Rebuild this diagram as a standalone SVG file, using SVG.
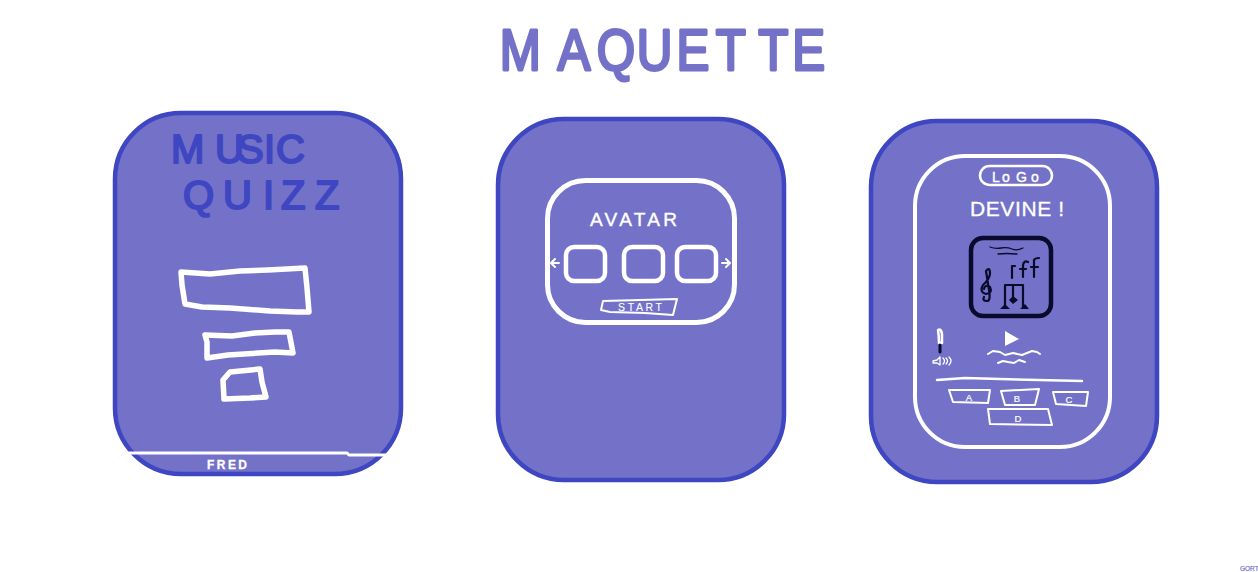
<svg xmlns="http://www.w3.org/2000/svg" width="1258" height="572" viewBox="0 0 1258 572">
<style>
text{font-family:"Liberation Sans",Arial,sans-serif}
.card{fill:#7472c8;stroke:#3e46c2;stroke-width:4.5}
.w{fill:none;stroke:#fff;stroke-linejoin:round;stroke-linecap:round}
.t{fill:#fff;stroke:#fff}
.k{fill:none;stroke:#0a0a2c;stroke-linejoin:round;stroke-linecap:round}
.blue{fill:#3e46c2;stroke:#3e46c2;stroke-width:2;stroke-linejoin:round}
</style>
<rect width="1258" height="572" fill="#fff"/>
<g id="title">
<text transform="scale(.85 1)" x="588 656 702 749 796 842 892 932" y="70" font-size="58" fill="#7472c8" stroke="#7472c8" stroke-width="3" stroke-linejoin="round">MAQUETTE</text>
</g>
<g id="screen-home">
<rect class="card" x="115" y="113" width="286" height="361" rx="66"/>
<text class="blue" x="171 215 237 264 276" y="163" font-size="40">MUSIC</text>
<text class="blue" x="183 223 263 281 315" y="209" font-size="40">QUIZZ</text>
<polygon class="w" stroke-width="5.5" points="181,272 210,274 240,271 268,270 305,268 307,288 309,312 297,312 270,311 230,308 202,307 185,304 182,285"/>
<polygon class="w" stroke-width="5.5" points="205,335 232,336 255,333 275,332 289,332 293,353 275,352 228,355 207,358 207,342"/>
<polygon class="w" stroke-width="5.5" points="223,380 230,372 260,369 262,382 266,397 250,398 224,399"/>
<polyline class="w" stroke-width="3" points="129,453 347,453 349,455 387,455"/>
<text class="t" x="207" y="469" font-size="12" font-weight="bold" stroke-width=".3" textLength="40">FRED</text>
</g>
<g id="screen-avatar">
<rect class="card" x="498" y="119" width="286" height="361" rx="66"/>
<rect class="w" x="547.5" y="180.5" width="187" height="142" rx="38" stroke-width="5"/>
<text class="t" x="590" y="226" font-size="19" stroke-width=".4" textLength="87">AVATAR</text>
<rect class="w" x="566" y="247" width="39" height="34" rx="8" stroke-width="4.5"/>
<rect class="w" x="624" y="247" width="39" height="34" rx="8" stroke-width="4.5"/>
<rect class="w" x="677" y="247" width="39" height="34" rx="8" stroke-width="4.5"/>
<path class="w" stroke-width="2" d="M559 263H552M555 259L551 263L555 267M722 263H729M726 259L730 263L726 267"/>
<polygon class="w" stroke-width="2" points="603,301 677,299 673,315 645,313 610,312 601,310"/>
<text class="t" x="618" y="311" font-size="10.5" stroke-width=".1" textLength="44">START</text>
</g>
<g id="screen-quiz">
<rect class="card" x="871" y="121" width="286" height="361" rx="66"/>
<rect class="w" x="915" y="156" width="195" height="291" rx="50" stroke-width="4"/>
<rect class="w" x="980" y="166" width="72" height="19" rx="9.5" stroke-width="2.5"/>
<text class="t" x="992 1002 1016 1031" y="182" font-size="14" stroke-width=".4">LoGo</text>
<text class="t" x="970" y="216" font-size="21" stroke-width=".3" textLength="94">DEVINE !</text>
<rect class="k" x="971" y="238" width="80" height="78" rx="12" stroke-width="4.5"/>
<path class="k" stroke-width="1.3" d="M990 247Q995 249 1001 248T1012 249T1023 248M998 254Q1006 253 1017 254"/>
<path class="k" stroke-width="2.2" d="M987 301Q982 301 984 297M987 301Q991 301 989 290L986 271Q990 266 990 274Q989 280 983 285Q979 292 986 294Q993 293 990 287Q985 284 984 289"/>
<path class="k" stroke-width="2.2" d="M1012 278V266H1015M1023 277V265M1020 269H1026M1023 265Q1024 260 1028 262M1034 277V260M1031 267H1038M1034 260Q1035 258 1039 258"/>
<path class="k" stroke-width="2.2" d="M1005 307V285H1023V307M1013 285V300"/>
<path fill="#0a0a2c" d="M1000 309L1005 304L1010 309ZM1009 300L1013 296L1018 300L1013 304ZM1020 309L1025 304L1029 309Z"/>
<path class="w" stroke-width="2.5" d="M938 330Q941 328 942 334L942 343H939Q939 336 938 330Z"/>
<path class="k" stroke-width="3" d="M940 345V352"/>
<path class="w" stroke-width="1.3" d="M933 361L937 360L940 357V365L937 363H933ZM943 358Q946 361 943 364M946 358Q949 361 946 364M949 357Q953 361 949 365"/>
<polygon points="1005,331 1019,339 1005,346" fill="#fff"/>
<polyline class="w" stroke-width="2" points="988,354 993,351 1000,352 1005,355 1013,353 1022,355 1032,351 1037,352 1040,354"/>
<polyline class="w" stroke-width="2" points="998,363 1003,361 1008,362 1014,363 1019,360 1025,362"/>
<polyline class="w" stroke-width="2.5" points="937,380 965,378 1000,379 1082,381"/>
<polygon class="w" stroke-width="2" points="949,390 990,390 988,403 953,402"/>
<polygon class="w" stroke-width="2" points="1001,391 1039,389 1035,405 1005,405"/>
<polygon class="w" stroke-width="2" points="1053,392 1088,392 1086,406 1056,404"/>
<polygon class="w" stroke-width="2" points="988,409 1048,409 1052,425 990,424"/>
<g class="t" font-size="9.5" stroke-width=".2" text-anchor="middle">
<text x="969" y="401">A</text>
<text x="1017" y="402">B</text>
<text x="1069" y="403">C</text>
<text x="1018" y="422">D</text>
</g>
</g>
<g id="credit">
<text x="1240" y="571" font-size="6.5" fill="#7472c8" stroke="#7472c8" stroke-width=".2">GORT</text>
</g>
</svg>
